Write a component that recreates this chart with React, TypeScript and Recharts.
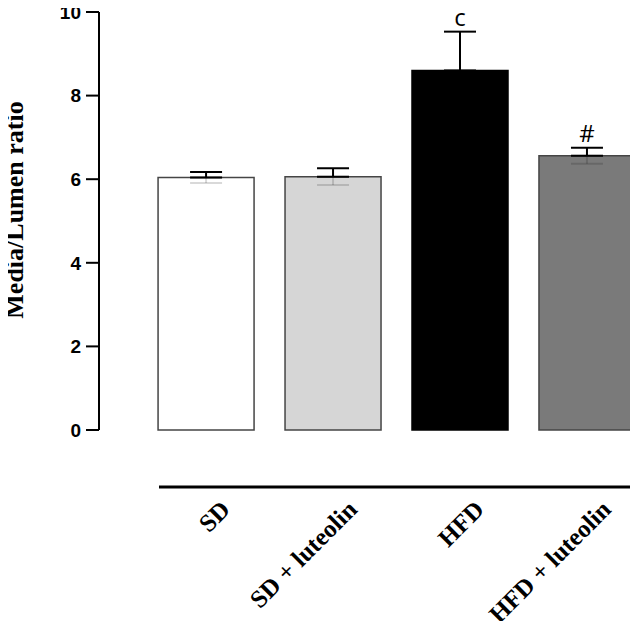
import { BarChart, Bar, XAxis, YAxis, ErrorBar, LabelList, Cell } from "recharts"

const groups = ["SD", "SD + luteolin", "HFD", "HFD + luteolin"]
const means = [6.04, 6.06, 8.6, 6.56]
const sem = [0.13, 0.2, 0.93, 0.19]
const marks = ["", "", "c", "#"]
const fills = ["#ffffff", "#d6d6d6", "#000000", "#7a7a7a"]
const yTicks = [0, 2, 4, 6, 8, 10]
const xTicks = [0, 1, 2, 3]

const data = groups.map((group, i) => ({
  pos: i,
  group,
  mean: means[i],
  // upper whisker in black, lower whisker faint inside the bar
  up: [0, sem[i]],
  down: [sem[i], 0],
  mark: marks[i],
}))

const GroupTick = (props: any) => {
  const { x, y, payload } = props
  const tx = x + 25
  const ty = y + 16
  return (
    <text
      x={tx}
      y={ty}
      transform={`rotate(-45 ${tx} ${ty})`}
      textAnchor="end"
      fontFamily="Liberation Serif"
      fontWeight="bold"
      fontSize={25}
      fill="#000"
    >
      {groups[payload.value]}
    </text>
  )
}

const MarkLabel = (props: any) => {
  const { index, value } = props
  const vb = props.viewBox || props
  const { x, y, width, height } = vb
  if (!value) return null
  const perUnit = height / means[index]
  const top = y - sem[index] * perUnit
  return (
    <text
      x={x + width / 2}
      y={top - 6}
      textAnchor="middle"
      fontFamily="Open Sans"
      fontSize={24}
      fill="#000"
    >
      {value}
    </text>
  )
}

const YTitle = (props: any) => {
  const { viewBox } = props
  const tx = viewBox.x + 23
  const ty = viewBox.y + viewBox.height / 2 - 11
  return (
    <text
      x={tx}
      y={ty}
      transform={`rotate(-90 ${tx} ${ty})`}
      textAnchor="middle"
      fontFamily="Liberation Serif"
      fontWeight="bold"
      fontSize={26}
      fill="#000"
    >
      Media/Lumen ratio
    </text>
  )
}

export default function App() {
  return (
    <div style={{ margin: "-8px" }}>
      <BarChart width={638} height={629} data={data} margin={{ top: 12, right: 3, bottom: 0, left: 0 }}>
        {/* spacer axes: push the visible axes away from the bars */}
        <XAxis xAxisId="gap" dataKey="pos" type="number" domain={[-0.3745, 3.3745]} height={57} axisLine={false} tickLine={false} tick={false} />
        <XAxis
          xAxisId="groups"
          dataKey="pos"
          type="number"
          domain={[-0.3745, 3.3745]}
          ticks={xTicks}
          interval={0}
          height={142}
          axisLine={{ stroke: "#000", strokeWidth: 3 }}
          tickLine={false}
          tick={<GroupTick />}
        />
        <YAxis yAxisId="gap" width={60} axisLine={false} tickLine={false} tick={false} />
        <YAxis
          yAxisId="val"
          domain={[0, 10]}
          ticks={yTicks}
          width={99}
          tickSize={13}
          tickMargin={5}
          axisLine={{ stroke: "#000", strokeWidth: 2 }}
          tickLine={{ stroke: "#000", strokeWidth: 2 }}
          tick={{ fontFamily: "Liberation Sans", fontWeight: "bold", fontSize: 19, fill: "#000" }}
          label={<YTitle />}
        />
        <Bar
          xAxisId="groups"
          yAxisId="val"
          dataKey="mean"
          barSize={96}
          stroke="#454545"
          strokeWidth={1.5}
          isAnimationActive={false}
        >
          {data.map((d, i) => (
            <Cell key={d.group} fill={fills[i]} stroke={i === 2 ? "#000" : "#454545"} />
          ))}
          <ErrorBar dataKey="down" width={16} stroke="#000" strokeOpacity={0.15} strokeWidth={2} />
          <ErrorBar dataKey="up" width={16} stroke="#000" strokeWidth={2} />
          <LabelList dataKey="mark" content={<MarkLabel />} />
        </Bar>
      </BarChart>
    </div>
  )
}
